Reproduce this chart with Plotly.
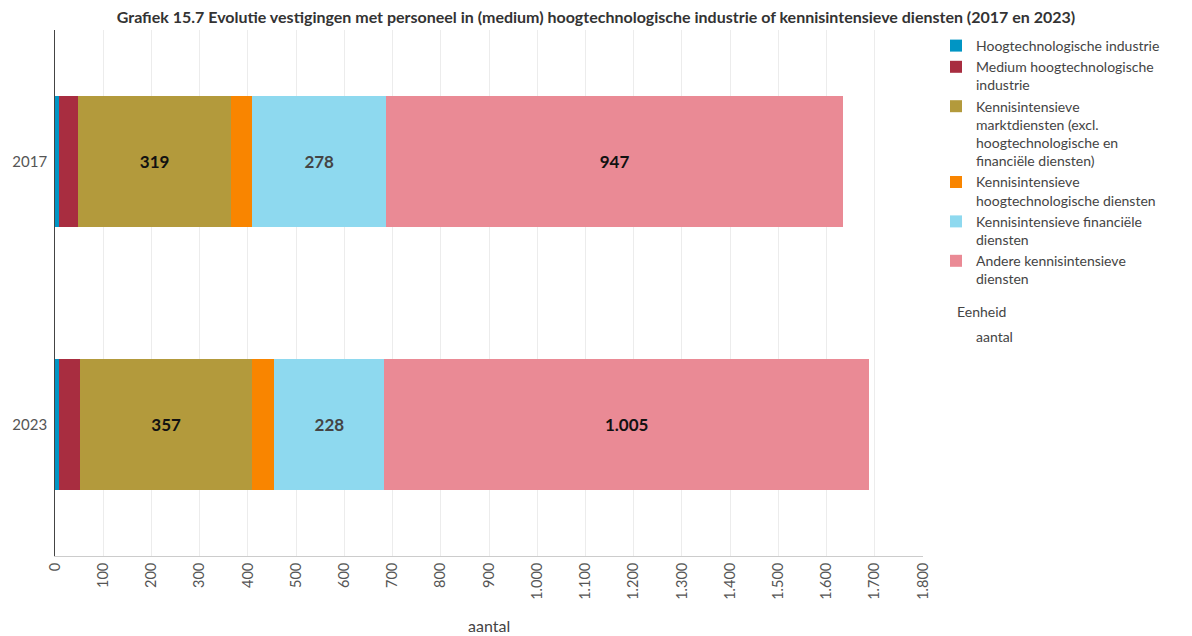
import plotly.graph_objects as go

# Vestigingen met personeel per sector (aantal)
years = ["2017", "2023"]
series_names = [
    "Hoogtechnologische industrie",
    "Medium hoogtechnologische<br>industrie",
    "Kennisintensieve<br>marktdiensten (excl.<br>hoogtechnologische en<br>financiële diensten)",
    "Kennisintensieve<br>hoogtechnologische diensten",
    "Kennisintensieve financiële<br>diensten",
    "Andere kennisintensieve<br>diensten",
]
hoogtech_industrie = [8, 9]
medium_hoogtech_industrie = [39, 43]
marktdiensten = [319, 357]
hoogtech_diensten = [43, 46]
financiele_diensten = [278, 228]
andere_diensten = [947, 1005]

series_values = [
    hoogtech_industrie,
    medium_hoogtech_industrie,
    marktdiensten,
    hoogtech_diensten,
    financiele_diensten,
    andere_diensten,
]
colors = ["#0095c4", "#a82d40", "#b39a3c", "#f98500", "#8ed9ef", "#ea8a95"]
show_labels = [False, False, True, False, True, True]
label_colors = ["#000000", "#000000", "#111111", "#000000", "#444444", "#111111"]

FONT = "Lato"

fig = go.Figure()
for name, vals, col, lab, lcol in zip(series_names, series_values, colors, show_labels, label_colors):
    fig.add_trace(go.Bar(
        y=years,
        x=vals,
        name=name,
        orientation="h",
        marker=dict(color=col, line=dict(width=0)),
        texttemplate="<b>%{x:,}</b>" if lab else None,
        textposition="inside" if lab else "none",
        insidetextanchor="middle",
        textfont=dict(family=FONT, size=17, color=lcol),
        hoverinfo="x+name",
    ))

M_L, M_R, M_T, M_B = 55, 269, 30, 80
plot_w = 1192 - M_L - M_R
plot_h = 636 - M_T - M_B


def px_x(x):
    return (x - M_L) / plot_w


def px_y(y):
    return 1 - (y - M_T) / plot_h


fig.update_layout(
    width=1192,
    height=636,
    barmode="stack",
    bargap=0.5,
    separators=",.",
    paper_bgcolor="white",
    plot_bgcolor="white",
    font=dict(family=FONT, size=14, color="#444444"),
    margin=dict(l=M_L, r=M_R, t=M_T, b=M_B, autoexpand=False),
    title=dict(
        text="<b>Grafiek 15.7 Evolutie vestigingen met personeel in (medium) hoogtechnologische industrie of kennisintensieve diensten (2017 en 2023)</b>",
        x=0.5, xref="container", xanchor="center",
        y=0.972, yref="container", yanchor="middle",
        font=dict(family=FONT, size=16, color="#333333"),
    ),
    legend=dict(
        x=px_x(936), xanchor="left", y=1.0, yanchor="top",
        font=dict(family=FONT, size=14, color="#444444"),
        traceorder="normal",
        itemwidth=30,
        valign="top",
        bgcolor="rgba(0,0,0,0)",
    ),
    annotations=[
        dict(text="Eenheid", xref="paper", yref="paper",
             x=px_x(955), y=px_y(311),
             xanchor="left", yanchor="middle", showarrow=False,
             font=dict(family=FONT, size=14, color="#444444")),
        dict(text="aantal", xref="paper", yref="paper",
             x=px_x(974), y=px_y(336),
             xanchor="left", yanchor="middle", showarrow=False,
             font=dict(family=FONT, size=14, color="#444444")),
        dict(text="aantal", xref="paper", yref="paper",
             x=0.5, y=px_y(625),
             xanchor="center", yanchor="middle", showarrow=False,
             font=dict(family=FONT, size=16, color="#444444")),
    ],
    showlegend=True,
)

fig.update_xaxes(
    range=[0, 1800],
    dtick=100,
    tick0=0,
    tickformat=",d",
    tickangle=-90,
    automargin=False,
    showgrid=True,
    gridcolor="#ececec",
    gridwidth=1,
    zeroline=False,
    showline=True,
    linecolor="#cccccc",
    linewidth=1,
    ticks="",
    tickfont=dict(family=FONT, size=14.5, color="#555555"),
)
fig.update_yaxes(
    type="category",
    categoryorder="array",
    categoryarray=years,
    autorange="reversed",
    automargin=False,
    showgrid=False,
    showline=True,
    linecolor="#444444",
    linewidth=1,
    ticks="",
    tickfont=dict(family=FONT, size=15, color="#555555"),
    ticksuffix=" ",
)

fig.write_html("out.html")
